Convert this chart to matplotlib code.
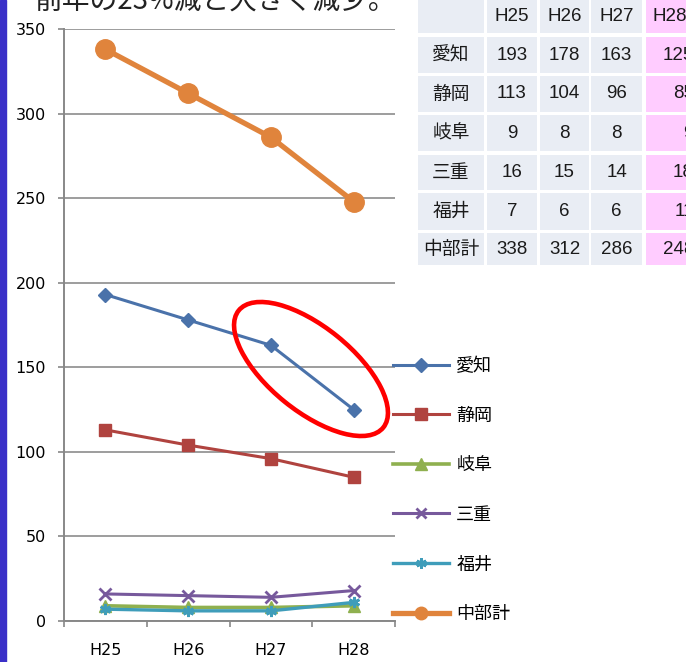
import matplotlib
matplotlib.use('Agg')
import matplotlib.pyplot as plt
from matplotlib.patches import Rectangle, Ellipse

plt.rcParams['font.family'] = ['Noto Sans CJK JP', 'DejaVu Sans']

years = ['H25', 'H26', 'H27', 'H28']
prefs = ['愛知', '静岡', '岐阜', '三重', '福井', '中部計']
aichi = [193, 178, 163, 125]
shizuoka = [113, 104, 96, 85]
gifu = [9, 8, 8, 9]
mie = [16, 15, 14, 18]
fukui = [7, 6, 6, 11]
chubu = [338, 312, 286, 248]
series = [aichi, shizuoka, gifu, mie, fukui, chubu]

colors = ['#4A72AA', '#B0433F', '#8FB04F', '#77599C', '#3F9DBA', '#E0843C']
markers = ['D', 's', '^', 'x', (6, 2, 0), 'o']
msizes = [7.5, 9, 8, 8, 8, 14]
leg_msizes = [7, 8.5, 8, 7.5, 7.5, 9]
lwidths = [2.2, 2.2, 2.6, 2.2, 2.4, 3.8]

W, H = 686, 662
fig = plt.figure(figsize=(W / 100, H / 100), dpi=100)

ax = fig.add_axes([64 / W, 41 / H, 331 / W, 592 / H])
xs = [i + 0.5 for i in range(len(years))]
for vals, name, c, m, ms, lw in zip(series, prefs, colors, markers, msizes, lwidths):
    ax.plot(xs, vals, color=c, marker=m, markersize=ms, linewidth=lw,
            markeredgewidth=2 if m in ('x', (6, 2, 0)) else 1,
            markeredgecolor=c, label=name, clip_on=False, zorder=3)

ax.set_xlim(0, 4)
ax.set_ylim(0, 350)
ax.set_yticks(range(0, 351, 50))
ax.set_xticks(xs)
ax.set_xticklabels(years, fontsize=11.5, family='DejaVu Sans')
ax.set_yticklabels([str(v) for v in range(0, 351, 50)], fontsize=11.5, family='DejaVu Sans')
ax.set_xticks(range(5), minor=True)
ax.tick_params(axis='x', which='major', length=0, pad=15.5)
ax.tick_params(axis='x', which='minor', length=4.3, width=1.2, color='#888888', direction='out')
ax.tick_params(axis='y', length=4.3, width=1.2, color='#888888', direction='out', pad=8.5)
ax.grid(axis='y', color='#8c8c8c', linewidth=1.2)
ax.set_axisbelow(True)
for s in ['top', 'right']:
    ax.spines[s].set_visible(False)
for s in ['left', 'bottom']:
    ax.spines[s].set_color('#888888')
    ax.spines[s].set_linewidth(1.4)

leg = ax.legend(loc='center left', bbox_to_anchor=(393 / W, 1 - 490 / H),
                bbox_transform=fig.transFigure, frameon=False, fontsize=13,
                handlelength=3.1, handletextpad=0.4, labelspacing=1.75,
                borderpad=0, borderaxespad=0)
for h, ms in zip(leg.legend_handles, leg_msizes):
    h.set_markersize(ms)

# overlay in pixel coordinates
ov = fig.add_axes([0, 0, 1, 1], zorder=5)
ov.set_xlim(0, W)
ov.set_ylim(0, H)
ov.axis('off')
ov.patch.set_alpha(0)

ov.add_patch(Rectangle((0, 0), 6, H, color='#3A30C8'))

ov.text(35, H - 10, '前年の23%減と大きく減少。', fontsize=20, color='#222222',
        va='baseline', ha='left')

ov.add_patch(Ellipse((311, H - 369), 186, 84, angle=-39, fill=False,
                     edgecolor='#FF0000', linewidth=3.3))

# data table
col_x = [418, 487, 540, 591, 646]
col_w = [66, 50, 49, 51, 60]
row_y = [0, 37, 76, 115, 155, 193, 233]
row_h = [33, 36, 36, 36, 35, 37, 32]
table_rows = [[''] + years] + [[p] + [str(v) for v in s] for p, s in zip(prefs, series)]
for r, row in enumerate(table_rows):
    for c, txt in enumerate(row):
        fc = '#FFCCFF' if c == 4 else '#E9EDF4'
        ov.add_patch(Rectangle((col_x[c], H - row_y[r] - row_h[r]), col_w[c], row_h[r],
                               facecolor=fc, edgecolor='none'))
        cy = H - row_y[r] - row_h[r] / 2
        if c == 0:
            ov.text(col_x[c] + col_w[c] / 2, cy, txt, fontsize=13.5, ha='center', va='center',
                    color='#1a1a1a')
        elif c == 4 and r > 0:
            ov.text(694, cy, txt, fontsize=13.5, ha='right', va='center', color='#1a1a1a',
                    family='Liberation Sans')
        elif c == 4:
            ov.text(652, cy, txt, fontsize=13.5, ha='left', va='center', color='#1a1a1a',
                    family='Liberation Sans')
        else:
            ov.text(col_x[c] + col_w[c] / 2, cy, txt, fontsize=13.5, ha='center', va='center',
                    color='#1a1a1a', family='Liberation Sans')

fig.savefig('out.png', dpi=100)
